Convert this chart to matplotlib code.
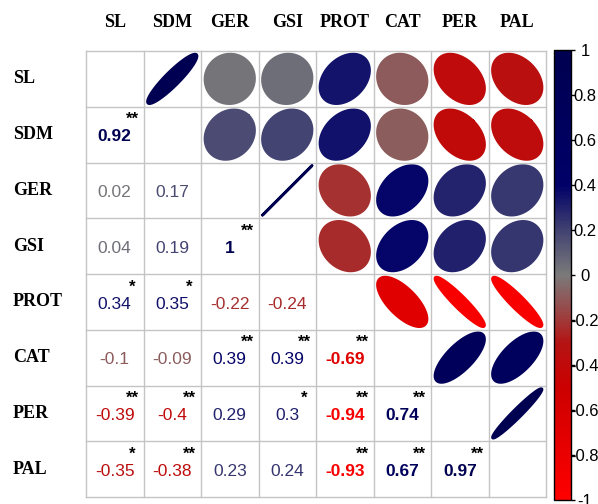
import numpy as np
import matplotlib
matplotlib.use('Agg')
from matplotlib import pyplot as plt
from matplotlib.colors import LinearSegmentedColormap, Normalize
from matplotlib.patches import Polygon
from matplotlib.cm import ScalarMappable

labels = ['SL', 'SDM', 'GER', 'GSI', 'PROT', 'CAT', 'PER', 'PAL']

corr = np.array([
    [1.00, 0.92, 0.02, 0.04, 0.34, -0.10, -0.39, -0.35],
    [0.92, 1.00, 0.17, 0.19, 0.35, -0.09, -0.40, -0.38],
    [0.02, 0.17, 1.00, 1.00, -0.22, 0.39, 0.29, 0.23],
    [0.04, 0.19, 1.00, 1.00, -0.24, 0.39, 0.30, 0.24],
    [0.34, 0.35, -0.22, -0.24, 1.00, -0.69, -0.94, -0.93],
    [-0.10, -0.09, 0.39, 0.39, -0.69, 1.00, 0.74, 0.67],
    [-0.39, -0.40, 0.29, 0.30, -0.94, 0.74, 1.00, 0.97],
    [-0.35, -0.38, 0.23, 0.24, -0.93, 0.67, 0.97, 1.00],
])

# significance marks for the lower triangle (row, col): stars
stars = {
    (1, 0): '**',
    (3, 2): '**',
    (4, 0): '*', (4, 1): '*',
    (5, 2): '**', (5, 3): '**', (5, 4): '**',
    (6, 0): '**', (6, 1): '**', (6, 3): '*', (6, 4): '**', (6, 5): '**',
    (7, 0): '*', (7, 1): '**', (7, 4): '**', (7, 5): '**', (7, 6): '**',
}

cmap = LinearSegmentedColormap.from_list('rg_navy', [
    (0.0, '#ff0000'),
    (0.25, '#cc0000'),
    (0.35, '#b41414'),
    (0.4, '#a03a3a'),
    (0.5, '#7a7a7a'),
    (0.6, '#424272'),
    (0.7, '#000068'),
    (1.0, '#000050'),
])
norm = Normalize(-1, 1)

W, H = 598, 504
fig = plt.figure(figsize=(W / 100, H / 100), dpi=100)
ax = fig.add_axes([86 / W, 7 / H, 460 / W, 446 / H])
ax.set_xlim(0, 8)
ax.set_ylim(8, 0)
ax.axis('off')

n = len(labels)
for i in range(n + 1):
    ax.axhline(i, color='#c4c4c4', lw=1, clip_on=False)
    ax.axvline(i, color='#c4c4c4', lw=1, clip_on=False)

sx, sy = 0.86, 0.86 * 57.5 / 55.75
k = np.linspace(0, 2 * np.pi, 200)
numfont = 'Liberation Sans'

for r in range(n):
    for c in range(n):
        v = corr[r, c]
        col = cmap(norm(v))
        if c > r:
            d = np.arccos(np.clip(v, -1, 1))
            ex = np.cos(k + d / 2) / 2
            ey = np.cos(k - d / 2) / 2
            pts = np.column_stack([c + 0.5 + ex * sx, r + 0.5 - ey * sy])
            ax.add_patch(Polygon(pts, closed=True, facecolor=col,
                                 edgecolor=col, lw=2, joinstyle='round'))
        elif c < r:
            txt = '{:g}'.format(round(v, 2))
            fw = 'bold' if abs(v) >= 0.6 else 'normal'
            ax.text(c + 0.5, r + 0.54, txt, ha='center', va='center',
                    fontsize=12.5, color=col, family=numfont, fontweight=fw)
            s = stars.get((r, c))
            if s:
                ax.text(c + 0.8, r + 0.23, s, ha='center', va='center',
                        fontsize=12, color='black', family=numfont,
                        fontweight='bold')

for i, lab in enumerate(labels):
    ax.text(i + 0.5, -0.52, lab, ha='center', va='center', fontsize=13,
            family='Liberation Serif', fontweight='bold', clip_on=False)
    ax.text(-1.27, i + 0.5, lab, ha='left', va='center', fontsize=13,
            family='Liberation Serif', fontweight='bold', clip_on=False)

cax = fig.add_axes([554 / W, 4 / H, 17 / W, 450 / H])
sm = ScalarMappable(norm=norm, cmap=cmap)
cb = fig.colorbar(sm, cax=cax)
ticks = np.round(np.linspace(-1, 1, 11), 1)
cb.set_ticks(ticks)
cb.set_ticklabels(['{:g}'.format(t) for t in ticks])
cb.outline.set_linewidth(1)
cax.tick_params(length=3, width=1, pad=7, labelsize=12)
for t in cax.get_yticklabels():
    t.set_horizontalalignment('center')
    t.set_family(numfont)

fig.savefig('out.png', dpi=100)
